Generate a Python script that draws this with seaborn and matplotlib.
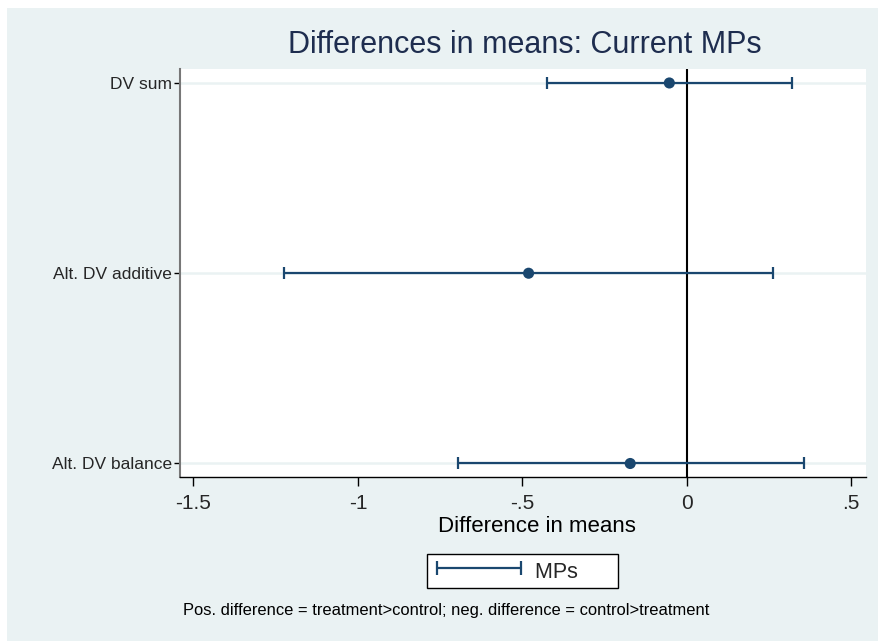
import numpy as np
import pandas as pd
import matplotlib
matplotlib.use("Agg")
import matplotlib.pyplot as plt
import seaborn as sns
from matplotlib.lines import Line2D
from matplotlib.patches import Rectangle

# Estimated differences in means with 95% confidence bounds
outcomes = ["DV sum", "Alt. DV additive", "Alt. DV balance"]
estimates = [-0.053, -0.481, -0.172]
ci_low = [-0.426, -1.225, -0.695]
ci_high = [0.321, 0.261, 0.355]

x_ticks = [-1.5, -1.0, -0.5, 0.0, 0.5]
x_tick_labels = ["-1.5", "-1", "-.5", "0", ".5"]

series_label = "MPs"
title = "Differences in means: Current MPs"
x_title = "Difference in means"
note = "Pos. difference = treatment>control; neg. difference = control>treatment"

BG = "#EAF2F3"
GRID = "#EAF2F3"
NAVY = "#1A476F"
TITLE_COLOR = "#1E2D4F"

df = pd.DataFrame({"outcome": outcomes, "estimate": estimates,
                   "lo": ci_low, "hi": ci_high})
df["pos"] = np.arange(len(df))

sns.set_style("ticks")
plt.rcParams["font.family"] = ["Liberation Sans", "DejaVu Sans"]

W, H = 879, 641
fig = plt.figure(figsize=(W / 100, H / 100), dpi=100, facecolor="white")
fig.patches.append(Rectangle((7 / W, 0), 1 - 7 / W, 1 - 8 / H,
                             transform=fig.transFigure, facecolor=BG,
                             edgecolor="none", zorder=-10))

left, right, top, bottom = 180, 866, 68.7, 477
ax = fig.add_axes([left / W, 1 - bottom / H, (right - left) / W, (bottom - top) / H])
ax.set_facecolor("white")

for p in df["pos"]:
    ax.axhline(p, color=GRID, lw=1.8, zorder=0)
ax.axvline(0, color="black", lw=1.5, zorder=1)

ax.errorbar(df["estimate"], df["pos"],
            xerr=[df["estimate"] - df["lo"], df["hi"] - df["estimate"]],
            fmt="none", ecolor=NAVY, elinewidth=1.6, capsize=4.5,
            capthick=1.6, zorder=2)
sns.scatterplot(data=df, x="estimate", y="pos", ax=ax, color=NAVY, s=64,
                edgecolor="none", zorder=3, legend=False)

ax.set_xlim(-1.541, 0.545)
ax.set_ylim(2.071, -0.075)
ax.set_xticks(x_ticks, x_tick_labels, fontsize=15)
ax.set_yticks(df["pos"], df["outcome"], fontsize=12.5)
ax.tick_params(axis="x", direction="out", length=6.5, width=1, color="black", pad=5.5)
ax.tick_params(axis="y", direction="out", length=4.5, width=1, color="black", pad=1.5)
ax.set_xlabel("")
ax.set_ylabel("")

for side in ("top", "right"):
    ax.spines[side].set_visible(False)
ax.spines["left"].set_color("#777777")
ax.spines["left"].set_linewidth(1.5)
ax.spines["bottom"].set_color("black")
ax.spines["bottom"].set_linewidth(1.0)

fig.text(525 / W, 1 - 45 / H, title, fontsize=22, color=TITLE_COLOR,
         ha="center", va="center")
fig.text(537 / W, 1 - 527 / H, x_title, fontsize=16, color="black",
         ha="center", va="center")

handle = Line2D([], [], color=NAVY, lw=1.6, marker="|", markersize=10,
                markeredgewidth=1.6)
leg = fig.legend(handles=[handle], labels=[series_label + "      "], loc="center",
                 bbox_to_anchor=(522.5 / W, 1 - 571 / H), numpoints=2,
                 frameon=True, fancybox=False, edgecolor="black",
                 facecolor="white", framealpha=1, fontsize=15.5,
                 handlelength=4.5, handleheight=1.5, handletextpad=0.35,
                 borderpad=0.2)
leg.get_frame().set_linewidth(1.0)

fig.text(183 / W, 1 - 610 / H, note, fontsize=11.9, color="black",
         ha="left", va="center")

fig.savefig("out.png", dpi=100, facecolor=fig.get_facecolor())
